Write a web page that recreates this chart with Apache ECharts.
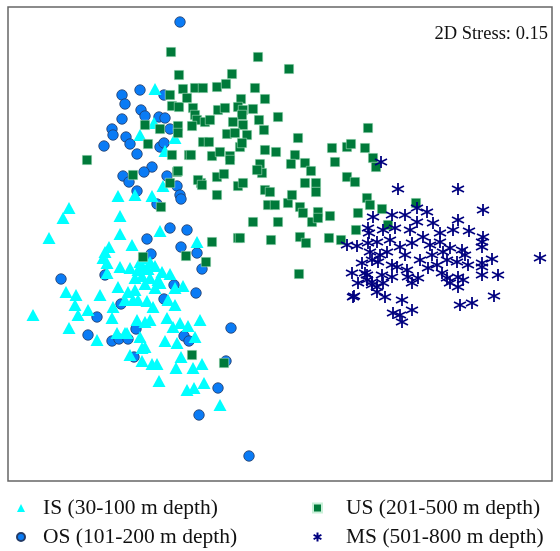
<!DOCTYPE html>
<html><head><meta charset="utf-8">
<script src="https://cdn.jsdelivr.net/npm/echarts@6/dist/echarts.min.js"></script>
<style>html,body{margin:0;padding:0;background:#fff}#c{width:560px;height:551px}</style>
</head><body><div id="c"></div>
<script>
// NMDS ordination coordinates (arbitrary units; y grows downward)
const seriesNames = ["IS (30-100 m depth)", "OS (101-200 m depth)", "US (201-500 m depth)", "MS (501-800 m depth)"];
const stressLabel = "2D Stress: 0.15";

const IS = [[155,89],[154,123],[140,135],[175,138],[165,151],[163,186],[118,196],[135,195],[152,196],[69,208],[63,218],[120,216],[49,238],[120,234],[160,231],[132,245],[197,242],[109,247],[105,252],[103,258],[107,263],[107,273],[120,267],[130,268],[138,270],[143,268],[148,269],[140,262],[145,258],[150,262],[155,266],[142,276],[150,278],[158,280],[135,278],[145,284],[155,288],[162,272],[170,274],[118,287],[160,283],[175,288],[183,286],[66,292],[76,295],[75,305],[69,328],[88,310],[78,315],[113,307],[112,318],[133,300],[138,300],[147,301],[153,307],[168,300],[175,305],[137,320],[145,322],[150,320],[173,327],[180,323],[188,326],[200,320],[167,318],[125,333],[97,340],[117,333],[127,333],[140,337],[165,341],[177,343],[195,337],[130,355],[142,348],[145,347],[142,361],[152,364],[157,364],[181,357],[176,368],[193,368],[202,364],[159,381],[187,390],[194,388],[204,383],[220,405],[33,315],[135,290],[128,292],[125,300],[100,295]];

const OS = [[180,22],[140,90],[122,95],[125,104],[164,95],[141,110],[145,116],[122,119],[159,117],[165,118],[112,129],[113,135],[126,137],[130,144],[104,146],[160,147],[164,143],[170,129],[137,154],[152,167],[144,172],[123,176],[129,182],[137,191],[167,176],[177,186],[180,195],[181,199],[157,204],[170,228],[187,230],[147,239],[181,247],[151,254],[197,253],[202,269],[61,279],[105,275],[174,285],[196,293],[121,304],[164,299],[97,317],[136,329],[231,328],[88,335],[112,341],[119,339],[128,339],[184,336],[189,341],[134,357],[226,361],[218,388],[199,415],[249,456]];

const US = [[171,52],[179,75],[183,89],[170,95],[172,106],[179,107],[145,125],[160,129],[178,126],[178,133],[148,144],[172,155],[87,160],[189,155],[258,57],[289,69],[232,74],[195,88],[203,88],[217,87],[226,84],[255,88],[265,99],[241,99],[187,98],[193,108],[195,115],[197,120],[218,110],[225,108],[238,107],[243,110],[242,115],[253,109],[278,117],[259,120],[192,126],[205,122],[210,120],[233,122],[243,125],[247,135],[264,130],[227,134],[235,133],[203,142],[209,142],[298,138],[368,128],[240,147],[242,143],[265,150],[276,152],[332,148],[347,147],[351,144],[365,148],[191,155],[212,156],[220,152],[230,156],[295,155],[260,164],[291,164],[305,163],[335,162],[373,158],[177,172],[201,183],[133,175],[178,171],[170,183],[161,207],[143,257],[186,256],[212,242],[206,262],[238,238],[192,355],[224,363],[230,160],[262,173],[257,170],[311,171],[198,180],[202,185],[217,177],[224,174],[238,186],[243,183],[265,190],[270,192],[305,183],[316,183],[316,192],[347,177],[355,182],[217,195],[268,205],[275,205],[288,203],[292,195],[300,207],[303,213],[312,222],[318,212],[318,218],[330,216],[367,198],[370,205],[358,213],[253,222],[278,222],[356,230],[240,238],[271,240],[300,237],[306,243],[329,238],[341,240],[299,274],[376,167],[382,209],[388,225],[416,203]];

const MS = [[381,162],[373,217],[368,228],[369,233],[347,245],[357,246],[368,243],[370,252],[372,260],[352,273],[367,275],[358,283],[354,296],[372,285],[398,189],[458,189],[483,210],[417,208],[427,212],[392,215],[405,215],[433,223],[458,220],[469,231],[395,228],[410,230],[417,222],[423,237],[440,233],[453,230],[483,237],[482,242],[482,247],[377,242],[400,247],[412,243],[430,245],[440,242],[380,255],[387,252],[405,255],[443,252],[450,248],[462,250],[465,255],[492,259],[362,263],[378,262],[392,265],[397,267],[437,265],[447,260],[457,262],[468,265],[482,263],[482,267],[365,273],[367,280],[382,275],[392,277],[407,270],[408,277],[418,278],[442,273],[447,278],[458,277],[463,280],[482,275],[498,275],[372,282],[377,287],[383,283],[412,283],[450,283],[458,287],[377,292],[385,297],[353,297],[402,300],[460,305],[472,303],[494,296],[393,313],[400,315],[402,322],[412,310],[540,258],[383,230],[390,240],[420,260],[428,268],[432,255]];

const xRange = [8, 552];
const yRange = [7, 481];

const star = 'path://M10,0L10,20M1.34,5L18.66,15M1.34,15L18.66,5';
const serif = '"Liberation Serif", "DejaVu Serif", serif';

const legendText = {fontFamily: serif, fontSize: 21.5, lineHeight: 22, color: '#111'};

const chart = echarts.init(document.getElementById('c'), null, {renderer: 'canvas'});
chart.setOption({
  animation: false,
  backgroundColor: '#fff',
  title: {
    text: stressLabel, right: 12, top: 25, padding: 0,
    textStyle: {fontFamily: serif, fontSize: 18.5, fontWeight: 'normal', color: '#111'}
  },
  grid: {left: 8, right: 8, top: 7, bottom: 70, show: true, borderColor: '#666', borderWidth: 1.5, backgroundColor: '#fff'},
  xAxis: {type: 'value', min: xRange[0], max: xRange[1], show: false},
  yAxis: {type: 'value', min: yRange[0], max: yRange[1], inverse: true, show: false},
  legend: [
    {data: [seriesNames[0], seriesNames[1]], orient: 'vertical', left: 16, top: 497, height: 54, itemGap: 7,
     itemWidth: 8, itemHeight: 8, padding: 0,
     textStyle: Object.assign({padding: [0,0,0,13]}, legendText)},
    {data: [seriesNames[2], seriesNames[3]], orient: 'vertical', left: 312, top: 497, height: 54, itemGap: 7,
     itemWidth: 9, itemHeight: 9, padding: 0,
     textStyle: Object.assign({padding: [0,0,0,19]}, legendText)}
  ],
  series: [
    {name: seriesNames[1], type: 'scatter', data: OS, symbol: 'circle', symbolSize: 10.5,
     itemStyle: {color: '#0A7BF5', borderColor: '#243b66', borderWidth: 0.8, opacity: 1}},
    {name: seriesNames[0], type: 'scatter', data: IS, symbol: 'triangle', symbolSize: [13, 12],
     itemStyle: {color: '#00FFFF', opacity: 1}},
    {name: seriesNames[2], type: 'scatter', data: US, symbol: 'rect', symbolSize: 9.5,
     itemStyle: {color: '#007A3A', borderColor: '#c8f0d8', borderWidth: 0.5, opacity: 1}},
    {name: seriesNames[3], type: 'scatter', data: MS, symbol: star, symbolSize: 12,
     itemStyle: {color: 'rgba(0,0,0,0)', borderColor: '#00007F', borderWidth: 1.8, opacity: 1}}
  ]
});
</script></body></html>
